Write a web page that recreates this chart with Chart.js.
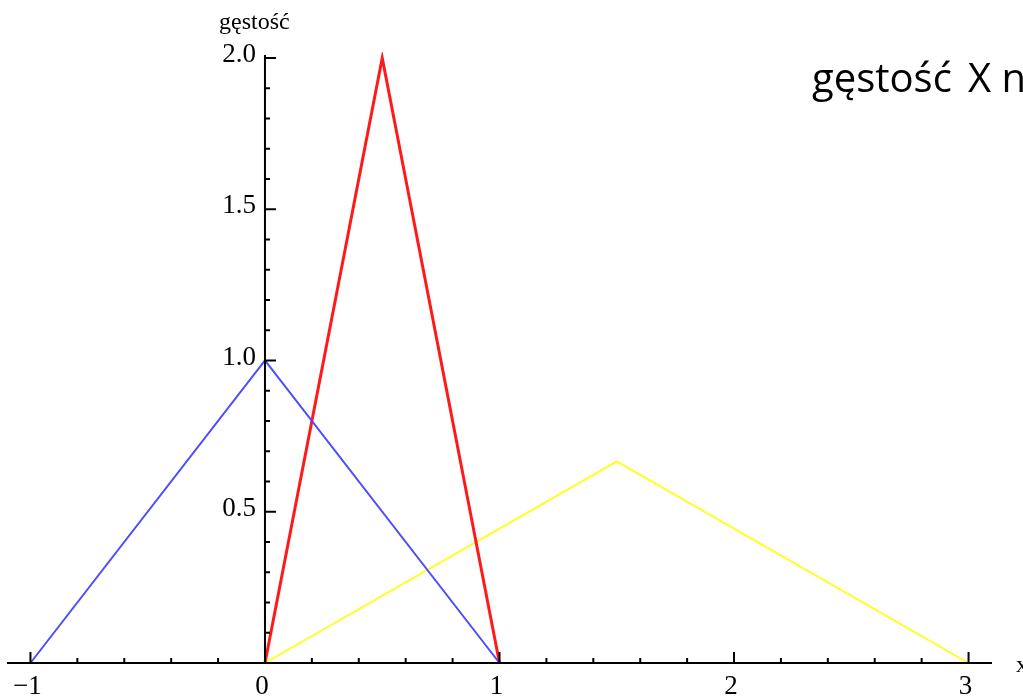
<!DOCTYPE html>
<html>
<head>
<meta charset="utf-8">
<script src="https://cdn.jsdelivr.net/npm/chart.js@4"></script>
<style>
  body { margin: 0; background: #fff; }
  #wrap { width: 1023px; height: 699px; }
</style>
</head>
<body>
<div id="wrap"><canvas id="densityChart" width="1023" height="699"></canvas></div>
<script>
// density curves (triangles)
const blueX = [-1, 0, 1];
const blueY = [0, 1, 0];
const redX = [0, 0.5, 1];
const redY = [0, 2, 0];
const yellowX = [0, 1.5, 3];
const yellowY = [0, 0.6667, 0];

const xTicks = [-1, 0, 1, 2, 3];
const xTickLabels = ['−1', '0', '1', '2', '3'];
const yTicks = [0.5, 1, 1.5, 2];
const yTickLabels = ['0.5', '1.0', '1.5', '2.0'];

function pts(xs, ys) {
    return xs.map((x, i) => ({ x: x, y: ys[i] }));
}

// Mathematica-like axes: crossing at origin, ticks pointing inward
const axesPlugin = {
    id: 'mmaAxes',
    afterDatasetsDraw(chart) {
        const ctx = chart.ctx;
        const xs = chart.scales.x;
        const ys = chart.scales.y;
        const area = chart.chartArea;
        const x0 = xs.getPixelForValue(0);
        const y0 = ys.getPixelForValue(0);

        ctx.save();
        ctx.strokeStyle = '#000';
        ctx.lineWidth = 2;
        ctx.beginPath();
        ctx.moveTo(area.left, y0);
        ctx.lineTo(area.right, y0);
        ctx.moveTo(x0, area.top - 3);
        ctx.lineTo(x0, y0);
        ctx.stroke();

        // x ticks, minor every 0.2
        for (let i = -5; i <= 15; i++) {
            const v = i * 0.2;
            const px = xs.getPixelForValue(v);
            const major = i % 5 === 0;
            ctx.beginPath();
            ctx.moveTo(px, y0);
            ctx.lineTo(px, y0 - (major ? 11 : 5));
            ctx.stroke();
        }
        // y ticks, minor every 0.1
        for (let i = 1; i <= 20; i++) {
            const v = i * 0.1;
            const py = ys.getPixelForValue(v);
            const major = i % 5 === 0;
            ctx.beginPath();
            ctx.moveTo(x0, py);
            ctx.lineTo(x0 + (major ? 11 : 5), py);
            ctx.stroke();
        }

        ctx.fillStyle = '#000';
        ctx.font = '27px "Liberation Serif"';
        ctx.textAlign = 'center';
        ctx.textBaseline = 'middle';
        xTicks.forEach((v, i) => {
            ctx.fillText(xTickLabels[i], xs.getPixelForValue(v) - 3, y0 + 24);
        });
        ctx.textAlign = 'right';
        yTicks.forEach((v, i) => {
            ctx.fillText(yTickLabels[i], x0 - 9, ys.getPixelForValue(v) - 3);
        });

        // axis labels
        ctx.font = '24px "Liberation Serif"';
        ctx.textAlign = 'left';
        ctx.textBaseline = 'alphabetic';
        ctx.fillText('gęstość', 219, 29);
        ctx.fillText('x', 1016, 672);

        // slide title (cut off at the right edge)
        ctx.font = '40px "Open Sans"';
        ctx.fillText('gęstość', 812, 92);
        ctx.fillText('X n', 968, 92);
        ctx.restore();
    }
};

const ctx = document.getElementById('densityChart').getContext('2d');
const densityChart = new Chart(ctx, {
    type: 'scatter',
    data: {
        datasets: [
            { data: pts(blueX, blueY), borderColor: '#4d4dff', borderWidth: 2 },
            { data: pts(redX, redY), borderColor: '#ff1a1a', borderWidth: 3 },
            { data: pts(yellowX, yellowY), borderColor: '#ffff1a', borderWidth: 2 }
        ].map(d => Object.assign(d, { showLine: true, pointRadius: 0, tension: 0, clip: 6 }))
    },
    options: {
        responsive: false,
        animation: false,
        layout: { padding: { left: 7, right: 31, top: 58, bottom: 36 } },
        scales: {
            x: { type: 'linear', display: false, min: -1.1, max: 3.1 },
            y: { type: 'linear', display: false, min: 0, max: 2 }
        },
        plugins: { legend: { display: false }, tooltip: { enabled: false } }
    },
    plugins: [axesPlugin]
});
</script>
</body>
</html>
